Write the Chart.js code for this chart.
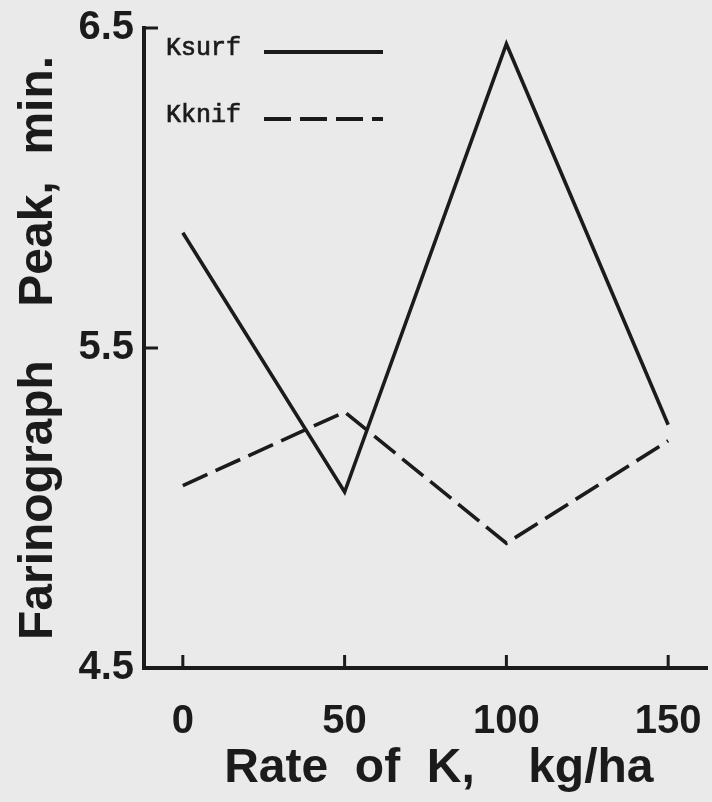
<!DOCTYPE html>
<html>
<head>
<meta charset="utf-8">
<script src="https://cdn.jsdelivr.net/npm/chart.js@4.4.1/dist/chart.umd.min.js"></script>
<style>
    html, body { margin: 0; padding: 0; background: #eaeaea; }
    #chart { display: block; }
</style>
</head>
<body>
<canvas id="chart" width="712" height="802"></canvas>
<script>
// Data
const rates = [0, 50, 100, 150];
const ksurf = [5.86, 5.05, 6.45, 5.26];
const kknif = [5.07, 5.30, 4.89, 5.21];
const yTicks = [4.5, 5.5, 6.5];

const ink = '#1b1b1b';
const tickFont = { family: 'Liberation Sans, Arial, sans-serif', size: 40, weight: 'bold' };
const titleFont = { family: 'Liberation Sans, Arial, sans-serif', size: 48, weight: 'bold' };

// Tick marks point into the plot, so draw them ourselves from the scales
const innerTicks = {
    id: 'innerTicks',
    afterDraw(chart) {
        const { ctx, scales: { x, y } } = chart;
        ctx.save();
        ctx.strokeStyle = ink;
        ctx.lineWidth = 3;
        ctx.beginPath();
        x.ticks.forEach(t => {
            const px = x.getPixelForValue(t.value);
            ctx.moveTo(px, x.top);
            ctx.lineTo(px, x.top - 13);
        });
        y.ticks.forEach(t => {
            const py = y.getPixelForValue(t.value);
            ctx.moveTo(y.right, py);
            ctx.lineTo(y.right + 14, py);
        });
        ctx.stroke();
        ctx.restore();
    }
};

// Legend sits inside the plot, top left, typewriter style
const inlineLegend = {
    id: 'inlineLegend',
    afterDraw(chart) {
        const { ctx, chartArea } = chart;
        ctx.save();
        ctx.font = '25px "Liberation Mono", "DejaVu Sans Mono", monospace';
        ctx.fillStyle = ink;
        ctx.strokeStyle = ink;
        ctx.textBaseline = 'middle';
        chart.data.datasets.forEach((ds, i) => {
            const rowY = chartArea.top + 20 + i * 67;
            ctx.lineWidth = 0.7;
            ctx.setLineDash([]);
            ctx.fillText(ds.label, chartArea.left + 22, rowY);
            ctx.strokeText(ds.label, chartArea.left + 22, rowY);
            ctx.beginPath();
            ctx.lineWidth = 4;
            ctx.setLineDash(ds.borderDash || []);
            ctx.moveTo(chartArea.left + 120, rowY + 4);
            ctx.lineTo(chartArea.left + 239, rowY + 4);
            ctx.stroke();
        });
        ctx.restore();
    }
};

const chart = new Chart(document.getElementById('chart'), {
    type: 'line',
    data: {
        datasets: [{
            label: 'Ksurf',
            data: rates.map((r, i) => ({ x: r, y: ksurf[i] })),
            borderColor: ink,
            borderWidth: 3.6,
            pointRadius: 0,
            tension: 0
        }, {
            label: 'Kknif',
            data: rates.map((r, i) => ({ x: r, y: kknif[i] })),
            borderColor: ink,
            borderWidth: 3.6,
            borderDash: [27, 9],
            pointRadius: 0,
            tension: 0
        }]
    },
    options: {
        responsive: false,
        devicePixelRatio: 1,
        animation: false,
        layout: { padding: { top: 28, right: 5, left: 0, bottom: 0 } },
        plugins: {
            legend: { display: false },
            tooltip: { enabled: false }
        },
        scales: {
            x: {
                type: 'linear',
                min: -12,
                max: 162,
                afterBuildTicks: s => { s.ticks = rates.map(v => ({ value: v })); },
                afterFit: s => {
                    s.height = 134;
                    s.paddingLeft = 0;
                    s.paddingRight = 0;
                },
                grid: { display: false, drawTicks: false },
                border: { display: true, color: ink, width: 4 },
                ticks: { color: ink, font: tickFont, padding: 30 },
                title: {
                    display: true,
                    text: '  Rate  of  K,    kg/ha',
                    color: ink,
                    font: titleFont,
                    padding: { top: 0, bottom: 4 }
                }
            },
            y: {
                type: 'linear',
                min: 4.5,
                max: 6.5,
                afterBuildTicks: s => { s.ticks = yTicks.map(v => ({ value: v })); },
                afterFit: s => {
                    s.width = 144;
                    s.paddingTop = 0;
                    s.paddingBottom = 0;
                },
                grid: { display: false, drawTicks: false },
                border: { display: true, color: ink, width: 4 },
                ticks: { color: ink, font: tickFont, padding: 10, callback: v => v.toFixed(1) },
                title: {
                    display: true,
                    text: 'Farinograph    Peak,  min.',
                    color: ink,
                    font: titleFont,
                    padding: { top: 10, bottom: 0 }
                }
            }
        }
    },
    plugins: [innerTicks, inlineLegend]
});
</script>
</body>
</html>
